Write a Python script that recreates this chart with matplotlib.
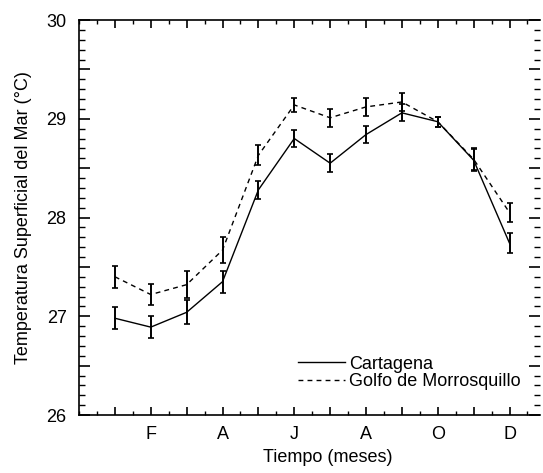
import matplotlib
matplotlib.use("Agg")
import matplotlib.pyplot as plt
from matplotlib.ticker import MultipleLocator, FixedLocator, FuncFormatter

plt.rcParams["font.family"] = ["Liberation Sans", "DejaVu Sans"]

# Datos
meses = [1, 2, 3, 4, 5, 6, 7, 8, 9, 10, 11, 12]
etiquetas_mes = ["", "F", "", "A", "", "J", "", "A", "", "O", "", "D"]

cartagena = [26.98, 26.89, 27.04, 27.35, 28.28, 28.80, 28.55, 28.84, 29.06, 28.97, 28.58, 27.74]
cartagena_err = [0.11, 0.11, 0.12, 0.11, 0.09, 0.09, 0.09, 0.09, 0.085, 0.05, 0.11, 0.10]

morrosquillo = [27.40, 27.22, 27.32, 27.67, 28.63, 29.14, 29.01, 29.12, 29.17, 28.97, 28.59, 28.05]
morrosquillo_err = [0.11, 0.11, 0.14, 0.13, 0.10, 0.07, 0.09, 0.09, 0.09, 0.05, 0.11, 0.10]

fig = plt.figure(figsize=(5.43, 4.73), dpi=100)
ax = fig.add_axes([0.1455, 0.1226, 0.8490, 0.8351])

# lineas
ax.plot(meses, cartagena, color="black", lw=1.0, ls="-", label="Cartagena")
ax.plot(meses, morrosquillo, color="black", lw=1.0, ls=(0, (3.5, 3)),
        label="Golfo de Morrosquillo")
# barras de error
ax.errorbar(meses, cartagena, yerr=cartagena_err, fmt="none", ecolor="black",
            capsize=2.5, elinewidth=1.4, capthick=1.2)
ax.errorbar(meses, morrosquillo, yerr=morrosquillo_err, fmt="none", ecolor="black",
            capsize=2.5, elinewidth=1.4, capthick=1.2)

ax.set_xlim(0, 12.85)
ax.set_ylim(26, 30)

ax.xaxis.set_major_locator(FixedLocator(meses))
ax.set_xticklabels(etiquetas_mes)
ax.xaxis.set_minor_locator(MultipleLocator(0.5))
ax.yaxis.set_major_locator(MultipleLocator(0.5))
ax.yaxis.set_major_formatter(FuncFormatter(lambda v, p: f"{v:.0f}" if abs(v - round(v)) < 1e-6 else ""))
ax.yaxis.set_minor_locator(MultipleLocator(0.1))

ax.tick_params(axis="x", which="both", direction="in", top=True, bottom=True, labelsize=13, pad=8)
ax.tick_params(axis="x", which="major", length=6, width=1.2)
ax.tick_params(axis="x", which="minor", length=3, width=1.0)
ax.tick_params(axis="y", which="both", direction="in", left=True, right=True, labelsize=13, pad=9)
ax.tick_params(axis="y", which="major", length=8, width=1.2)
ax.tick_params(axis="y", which="minor", length=4, width=1.0)

ax.spines["right"].set_visible(False)
for s in ["left", "top", "bottom"]:
    ax.spines[s].set_linewidth(1.2)

ax.set_xlabel("Tiempo (meses)", fontsize=13, labelpad=9)
ax.xaxis.set_label_coords(0.54, -0.085)
ax.set_ylabel("Temperatura Superficial del Mar (°C)", fontsize=13, labelpad=10)

ax.legend(loc="center left", bbox_to_anchor=(0.549, 0.2114), bbox_transform=fig.transFigure,
          frameon=False, fontsize=13, handlelength=2.6, handletextpad=0.2,
          labelspacing=0.05, borderpad=0, borderaxespad=0)

fig.savefig("out.png", dpi=100)
